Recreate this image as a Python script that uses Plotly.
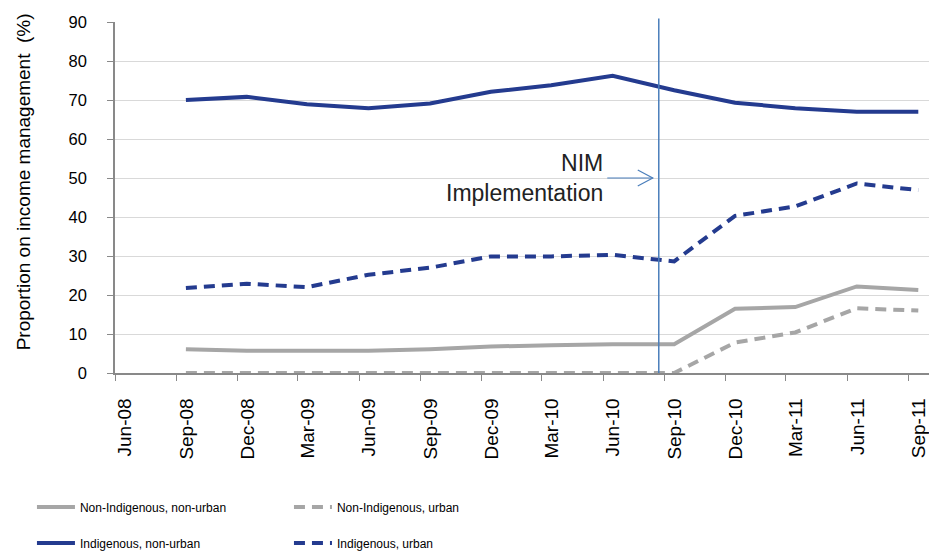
import plotly.graph_objects as go
import pandas as pd

# ---- data ----
periods = ["Sep-08", "Dec-08", "Mar-09", "Jun-09", "Sep-09", "Dec-09", "Mar-10",
           "Jun-10", "Sep-10", "Dec-10", "Mar-11", "Jun-11", "Sep-11"]
non_indig_non_urban = [6.1, 5.7, 5.7, 5.7, 6.1, 6.8, 7.1, 7.4, 7.4, 16.5, 16.9, 22.2, 21.3]
non_indig_urban = [0.0, 0.0, 0.0, 0.0, 0.0, 0.0, 0.0, 0.0, 0.0, 7.8, 10.4, 16.6, 16.0]
indig_non_urban = [70.0, 70.8, 68.9, 67.9, 69.1, 72.1, 73.8, 76.2, 72.5, 69.3, 67.9, 67.0, 67.0]
indig_urban = [21.8, 22.9, 22.0, 25.2, 27.0, 29.9, 29.9, 30.3, 28.6, 40.3, 42.7, 48.6, 46.9]
nim_date = "2010-08-23"
nim_label = "NIM<br>Implementation"
y_title = "Proportion on income management  (%)"

# points sit in the middle of their month (Excel month-based date axis)
x = pd.to_datetime(periods, format="%b-%y") + pd.Timedelta(days=14)

GREY = "#A6A6A6"
BLUE = "#243B8F"
FONT = "Liberation Sans, Arial, sans-serif"

fig = go.Figure()
fig.add_trace(go.Scatter(x=x, y=non_indig_non_urban, mode="lines", name="Non-Indigenous, non-urban",
                         line=dict(color=GREY, width=4), legend="legend"))
fig.add_trace(go.Scatter(x=x, y=non_indig_urban, mode="lines", name="Non-Indigenous, urban",
                         line=dict(color=GREY, width=4, dash="11px,7px"), legend="legend"))
fig.add_trace(go.Scatter(x=x, y=indig_non_urban, mode="lines", name="Indigenous, non-urban",
                         line=dict(color=BLUE, width=4), legend="legend2"))
fig.add_trace(go.Scatter(x=x, y=indig_urban, mode="lines", name="Indigenous, urban",
                         line=dict(color=BLUE, width=4, dash="11px,7px"), legend="legend2"))

# NIM vertical line
fig.add_shape(type="line", xref="x", yref="paper", x0=nim_date, x1=nim_date, y0=0, y1=1.01,
              line=dict(color="#4A7EBB", width=1.5))
# arrow shaft + chevron head
fig.add_shape(type="line", xref="x", yref="y", x0="2010-06-07", x1="2010-08-14", y0=50, y1=50,
              line=dict(color="#4A7EBB", width=1.2))
fig.add_shape(type="path", xref="x", yref="y", xsizemode="pixel", ysizemode="pixel",
              xanchor="2010-08-14", yanchor=50, path="M-15,-8 L0,0 L-15,8",
              line=dict(color="#4A7EBB", width=1.2))
fig.add_annotation(x="2010-06-03", y=50, xref="x", yref="y", text=nim_label, showarrow=False,
                   xanchor="right", yanchor="middle", align="right",
                   font=dict(family=FONT, size=23, color="#222222"))
# y-axis title (placed like the original, slightly above the axis centre)
fig.add_annotation(x=-0.112, y=0.5456, xref="paper", yref="paper", text=y_title, showarrow=False,
                   textangle=-90, xanchor="center", yanchor="middle",
                   font=dict(family=FONT, size=19, color="#000"))

leg = dict(orientation="h", x=0.0344, xanchor="left", yanchor="middle", xref="container", yref="container",
           entrywidth=204, entrywidthmode="pixels", font=dict(family=FONT, size=12, color="#000"),
           bgcolor="rgba(0,0,0,0)", itemwidth=38)
fig.update_layout(
    width=929, height=555,
    margin=dict(l=115, r=0, t=22, b=182, autoexpand=False),
    paper_bgcolor="white", plot_bgcolor="white",
    font=dict(family=FONT, color="#000000"),
    showlegend=True,
    legend=dict(leg, y=0.0865),
    legend2=dict(leg, y=0.0216),
)
fig.update_xaxes(type="date", range=["2008-06-01", "2011-10-01"], tick0="2008-06-01", dtick="M3",
                 tickformat="%b-%y", tickangle=-90, ticks="outside", ticklen=6, tickcolor="#898989",
                 showline=True, linecolor="#898989", linewidth=1.5, showgrid=False, zeroline=False,
                 automargin=False, ticklabeloverflow="allow", ticklabelstandoff=10,
                 ticklabelshift=10, tickfont=dict(size=19, family=FONT, color="#000"))
fig.update_yaxes(range=[0, 90], dtick=10, ticks="outside", ticklen=6, tickcolor="#898989",
                 showline=True, linecolor="#898989", linewidth=1.5, showgrid=True, gridcolor="#D9D9D9",
                 gridwidth=1.2, zeroline=False, automargin=False, ticklabelstandoff=17,
                 tickfont=dict(size=16.5, family=FONT, color="#000"))

fig.write_html("out.html", post_script="document.body.style.margin='0';",
               config={"displayModeBar": False})
